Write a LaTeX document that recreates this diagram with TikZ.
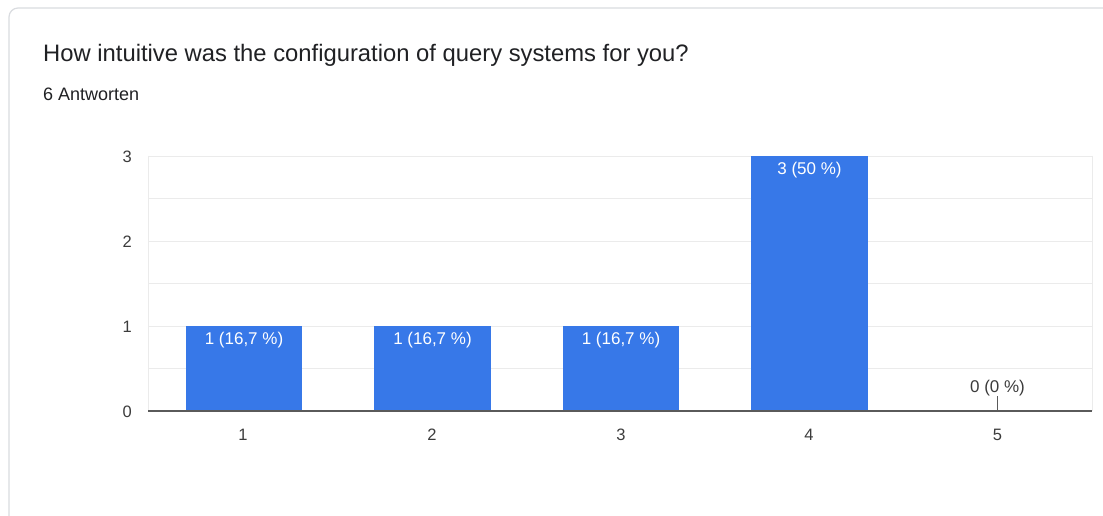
\documentclass[tikz,border=0pt]{standalone}
\usepackage{fontspec}
\setmainfont{Liberation Sans}
\definecolor{barblue}{RGB}{55,120,232}
\definecolor{gridgray}{RGB}{235,235,235}
\definecolor{axisgray}{RGB}{90,90,90}
\definecolor{cardgray}{RGB}{218,220,224}
\definecolor{titlecol}{RGB}{32,33,36}
\definecolor{labelcol}{RGB}{60,60,60}
\tikzset{
  bar/.style={fill=barblue, draw=none},
  grid line/.style={draw=gridgray, line width=0.9pt},
  barlabel/.style={text=white, font=\fontsize{17}{20}\selectfont, inner sep=0pt, anchor=center},
  ylab/.style={text=labelcol, font=\fontsize{16.5}{19}\selectfont, inner sep=0pt, anchor=east},
  xlab/.style={text=labelcol, font=\fontsize{16.5}{19}\selectfont, inner sep=0pt, anchor=center},
}
\begin{document}
\begin{tikzpicture}[x=1pt,y=-1pt]
\useasboundingbox (0,0) rectangle (1103,516);
\fill[white] (0,0) rectangle (1103,516);
% card
\draw[cardgray, line width=1.2pt, rounded corners=9pt] (9,8) rectangle (1112,528);
% title
\node[anchor=base west, inner sep=0pt, text=titlecol, font=\fontsize{23.8}{28}\selectfont] (title) at (43,62) {How intuitive was the configuration of query systems for you?};
\node[anchor=base west, inner sep=0pt, text=titlecol, font=\fontsize{18}{21}\selectfont] (count) at (43,101) {6 Antworten};
% grid
\foreach \y in {156,198.5,241,283.5,326,368.5} {
  \draw[grid line] (148,\y) -- (1092,\y);
}
\draw[grid line] (148,156) -- (148,411);
\draw[grid line] (1092,156) -- (1092,411);
% bars
\fill[bar] (186,326) rectangle (302,411);
\fill[bar] (374,326) rectangle (491,411);
\fill[bar] (563,326) rectangle (679,411);
\fill[bar] (751,156) rectangle (868,411);
% baseline
\draw[axisgray, line width=1.4pt] (148,411) -- (1092,411);
% bar labels
\node[barlabel] (l1) at (244,340) {1 (16,7 \%)};
\node[barlabel] (l2) at (432.5,340) {1 (16,7 \%)};
\node[barlabel] (l3) at (621,340) {1 (16,7 \%)};
\node[barlabel] (l4) at (809.5,170) {3 (50 \%)};
\node[barlabel, text=labelcol] (l5) at (997.5,388) {0 (0 \%)};
\coordinate (t5) at (997.5,411);
\draw[axisgray, line width=0.6pt] (t5) -- ++(0,-15);
% y labels
\node[ylab] (y3) at (132,157) {3};
\node[ylab] (y2) at (132,242) {2};
\node[ylab] (y1) at (132,327) {1};
\node[ylab] (y0) at (132,412) {0};
% x labels
\node[xlab] (x1) at (243,435) {1};
\node[xlab] (x2) at (432,435) {2};
\node[xlab] (x3) at (621,435) {3};
\node[xlab] (x4) at (809,435) {4};
\node[xlab] (x5) at (997.5,435) {5};
\end{tikzpicture}
\end{document}
